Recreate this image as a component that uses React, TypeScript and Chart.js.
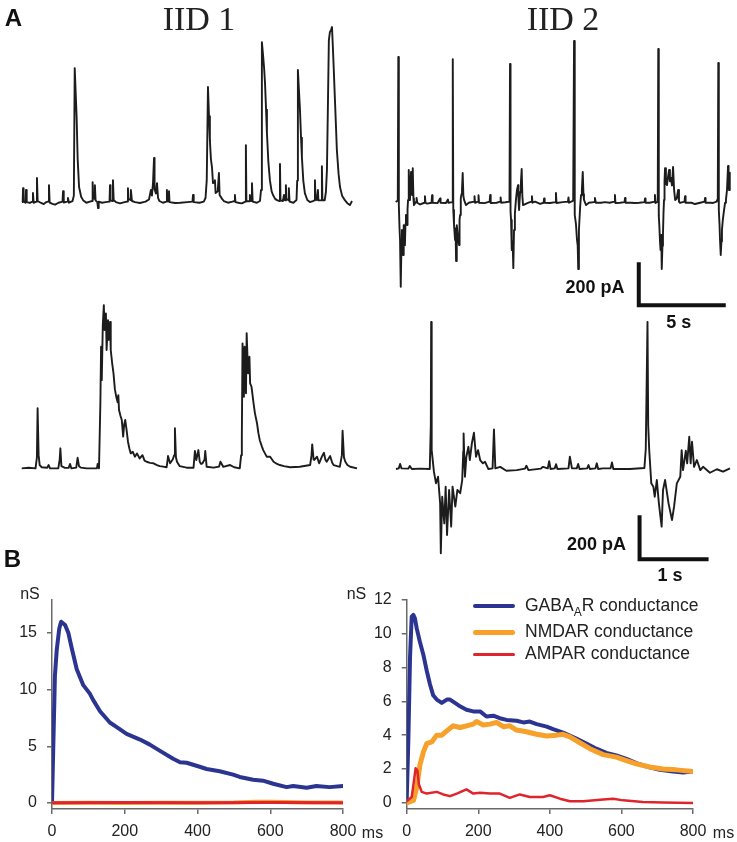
import React, { useEffect, useRef } from "react";
import { Chart, registerables } from "chart.js";

Chart.register(...registerables);

// ---------- Panel A data: [time (s), current (pA)] ----------
const iid1Long: number[][] = [
  [0, 0], [0.04, 3], [0.06, 65], [0.09, 2], [0.2, -3], [0.23, 56], [0.27, 0], [0.45, -4], [0.6, 2], [0.63, 42],
  [0.67, -3], [0.83, 2], [0.86, 112], [0.9, 5], [1.1, -4], [1.25, -9], [1.4, 0], [1.52, 3], [1.55, 79],
  [1.59, -2], [1.75, -8], [1.9, -12], [2.1, -3], [2.33, 2], [2.36, 51], [2.4, -2], [2.6, 2], [2.64, 19],
  [2.7, -3], [2.9, 4], [2.98, 30], [3.03, 623], [3.08, 520], [3.14, 395], [3.2, 200], [3.28, 70], [3.4, 25],
  [3.51, 9], [3.7, -3], [3.9, 2], [4.03, 5], [4.06, 93], [4.09, 20], [4.16, 15], [4.19, 79], [4.23, 8],
  [4.33, 0], [4.37, -28], [4.41, 2], [4.6, -3], [4.8, 0], [5.03, 2], [5.06, 79], [5.09, 8], [5.2, 5],
  [5.23, 102], [5.27, 10], [5.4, 0], [5.63, -6], [5.9, 0], [6.06, 3], [6.09, 65], [6.12, 15], [6.23, 10],
  [6.26, 56], [6.32, 5], [6.5, 0], [6.78, -4], [7.1, 2], [7.3, 12], [7.41, 56], [7.47, 30], [7.53, 88],
  [7.59, 205], [7.62, 60], [7.7, 40], [7.76, 88], [7.82, 20], [7.9, 5], [8.1, -3], [8.3, 2], [8.33, 56],
  [8.36, 5], [8.42, 3], [8.45, 51], [8.48, 0], [8.8, -4], [9.1, -3], [9.5, 0], [9.8, 2], [9.83, 33],
  [9.87, 0], [10.2, -3], [10.45, 2], [10.55, 19], [10.62, 102], [10.69, 535], [10.75, 400], [10.8, 288],
  [10.86, 200], [10.92, 163], [10.98, 88], [11.05, 95], [11.09, 102], [11.13, 42], [11.25, 50], [11.32, 135],
  [11.36, 33], [11.5, 15], [11.6, 5], [11.84, -3], [12.1, 2], [12.22, 5], [12.24, 33], [12.27, 0],
  [12.5, -4], [12.64, -6], [12.84, 2], [12.87, 265], [12.9, 5], [13.07, 4], [13.1, 33], [13.14, 8],
  [13.19, 5], [13.22, 88], [13.26, 2], [13.5, -3], [13.68, 5], [13.74, 56], [13.79, 744], [13.85, 690],
  [13.92, 620], [13.97, 553], [14.03, 430], [14.08, 321], [14.16, 190], [14.25, 102], [14.35, 50],
  [14.43, 33], [14.55, 15], [14.66, 9], [14.8, 5], [14.83, 177], [14.86, 8], [15.0, 5], [15.06, 33],
  [15.1, 10], [15.14, 8], [15.17, 79], [15.2, 15], [15.3, 10], [15.34, 65], [15.38, 2], [15.6, -3],
  [15.78, 10], [15.82, 100], [15.86, 614], [15.92, 520], [15.98, 428], [16.04, 300], [16.09, 209],
  [16.17, 100], [16.26, 42], [16.4, 10], [16.55, 0], [16.72, 5], [16.81, 8], [16.84, 102], [16.87, 15],
  [16.95, 10], [17.01, 56], [17.04, 8], [17.2, 8], [17.24, 167], [17.27, 10], [17.4, 8], [17.47, 47],
  [17.53, 150], [17.59, 474], [17.64, 753], [17.7, 790], [17.76, 800], [17.82, 814], [17.87, 721],
  [17.93, 600], [17.99, 474], [18.05, 350], [18.1, 242], [18.2, 130], [18.28, 70], [18.4, 30], [18.56, 9],
  [18.7, -5], [18.85, -14], [18.97, 5],
];

const iid2Long: number[][] = [
  [0, 3], [0.12, 10], [0.15, 678], [0.18, -11], [0.22, -120], [0.25, -173], [0.28, -260], [0.3, -391],
  [0.33, -200], [0.36, -127], [0.39, -230], [0.42, -243], [0.45, -150], [0.47, -104], [0.5, -180],
  [0.53, -197], [0.56, -100], [0.59, -57], [0.62, -90], [0.65, -104], [0.68, -30], [0.71, 13], [0.74, 60],
  [0.76, 152], [0.79, 30], [0.82, 13], [0.85, 80], [0.88, 143], [0.91, 50], [0.94, 36], [0.97, 100],
  [0.99, 161], [1.02, 20], [1.05, -11], [1.17, 5], [1.2, 22], [1.24, 0], [1.4, -8], [1.65, 0], [1.68, 30],
  [1.71, 0], [1.8, -4], [2.06, 0], [2.09, 35], [2.12, 0], [2.4, -2], [2.55, 20], [2.58, 0], [2.89, -1],
  [3.0, 15], [3.03, 0], [3.25, 3], [3.28, 668], [3.31, -34], [3.35, -100], [3.41, -173], [3.44, -120],
  [3.47, -271], [3.5, -150], [3.52, -104], [3.58, -160], [3.64, -197], [3.67, -80], [3.7, -57], [3.74, 20],
  [3.78, 40], [3.81, 59], [3.85, 138], [3.89, 30], [3.93, 13], [4.04, -11], [4.2, 0], [4.5, 5], [4.53, 30],
  [4.56, 0], [4.73, 5], [4.76, 35], [4.79, 0], [5.1, -2], [5.4, 5], [5.43, 36], [5.46, -1], [5.8, 0],
  [6.0, 5], [6.03, 25], [6.06, 0], [6.3, 2], [6.54, 5], [6.57, 645], [6.6, -40], [6.63, -80], [6.66, -150],
  [6.68, -220], [6.72, -180], [6.76, -304], [6.8, -127], [6.85, -50], [6.91, 13], [6.97, 60], [7.03, 82],
  [7.06, 10], [7.09, -34], [7.15, 50], [7.2, 100], [7.24, 157], [7.28, 30], [7.32, -11], [7.6, -1],
  [7.8, 5], [7.83, 30], [7.86, 0], [8.01, 5], [8.3, -5], [8.5, 0], [8.53, 20], [8.56, 0], [8.87, -1],
  [9.18, 3], [9.21, 45], [9.24, -1], [9.6, 3], [9.9, 5], [9.93, 25], [9.96, 0], [10.2, 10], [10.25, 752],
  [10.28, -20], [10.3, -57], [10.36, -100], [10.42, -173], [10.46, -200], [10.49, -308], [10.53, -127],
  [10.6, -20], [10.65, 36], [10.7, 60], [10.75, 143], [10.79, 40], [10.82, 13], [10.94, -11], [11.1, 0],
  [11.4, 3], [11.45, 22], [11.5, 0], [11.8, 0], [12.03, 3], [12.3, 0], [12.57, 5], [12.6, 36], [12.63, -1],
  [12.9, 0], [13.15, 3], [13.18, 22], [13.21, 0], [13.5, 0], [13.75, -1], [14.0, 0], [14.3, 3], [14.33, 20],
  [14.36, 0], [14.6, 0], [14.87, 5], [14.9, 36], [14.93, -1], [15.06, 5], [15.09, 715], [15.12, -60],
  [15.15, -104], [15.19, -180], [15.22, -220], [15.26, -150], [15.29, -308], [15.33, -200], [15.36, -150],
  [15.39, -50], [15.42, 13], [15.45, 100], [15.48, 161], [15.53, 90], [15.59, 82], [15.65, 120],
  [15.71, 152], [15.76, 100], [15.82, 115], [15.88, 80], [15.94, 166], [16.0, 60], [16.06, 13], [16.15, 20],
  [16.23, 59], [16.28, 5], [16.34, -1], [16.6, 5], [16.63, 30], [16.66, 0], [17.0, 0], [17.2, -6],
  [17.5, 0], [17.75, 5], [17.78, 22], [17.81, 0], [18.1, 0], [18.24, -1], [18.44, 5], [18.47, 13],
  [18.51, 10], [18.54, 650], [18.57, -34], [18.61, -100], [18.64, -173], [18.68, -243], [18.72, -180],
  [18.75, -127], [18.8, -80], [18.87, -34], [18.93, 0], [18.98, 13], [19.04, 60], [19.1, 171], [19.13, 80],
  [19.16, 59], [19.19, 140], [19.21, 115],
];

const iid1Short: number[][] = [
  [0, 0], [0.1, 3], [0.2, 0], [0.22, 50], [0.23, 273], [0.245, 60], [0.26, 15], [0.29, 5], [0.37, 3],
  [0.39, 15], [0.41, 0], [0.53, 0], [0.55, 40], [0.56, 91], [0.575, 10], [0.62, 3], [0.68, 2], [0.7, 20],
  [0.72, 0], [0.79, 3], [0.81, 48], [0.83, 10], [0.86, 3], [0.94, 0], [1.09, 0], [1.1, 20], [1.12, 0],
  [1.14, 300], [1.15, 553], [1.16, 401], [1.175, 650], [1.19, 742], [1.2, 629], [1.22, 704], [1.23, 538],
  [1.25, 674], [1.26, 584], [1.28, 666], [1.29, 538], [1.31, 480], [1.33, 432], [1.35, 360], [1.37, 325],
  [1.39, 300], [1.4, 333], [1.41, 265], [1.43, 240], [1.45, 220], [1.47, 144], [1.485, 200], [1.5, 220],
  [1.52, 174], [1.54, 121], [1.56, 90], [1.58, 68], [1.61, 75], [1.64, 53], [1.67, 68], [1.71, 45],
  [1.75, 60], [1.78, 35], [1.81, 30], [1.86, 25], [1.91, 23], [1.96, 15], [2.0, 10], [2.05, 8], [2.1, 5],
  [2.115, 40], [2.12, 56], [2.15, 23], [2.19, 41], [2.21, 60], [2.22, 182], [2.235, 50], [2.25, 30],
  [2.29, 10], [2.39, 3], [2.49, 3], [2.51, 79], [2.53, 38], [2.56, 83], [2.58, 30], [2.6, 20], [2.62, 23],
  [2.65, 40], [2.66, 79], [2.68, 7], [2.78, 3], [2.86, 8], [2.88, 30], [2.92, 7], [3.02, 15], [3.08, 5],
  [3.16, 0], [3.18, 60], [3.19, 144], [3.2, 568], [3.22, 325], [3.23, 553], [3.25, 341], [3.26, 614],
  [3.28, 432], [3.3, 507], [3.31, 386], [3.33, 371], [3.36, 295], [3.38, 250], [3.41, 205], [3.43, 160],
  [3.45, 128], [3.48, 100], [3.5, 83], [3.55, 53], [3.6, 53], [3.65, 30], [3.7, 20], [3.74, 15], [3.8, 10],
  [3.89, 5], [4.03, 7], [4.18, 15], [4.2, 60], [4.21, 109], [4.23, 40], [4.24, 38], [4.28, 53], [4.31, 23],
  [4.35, 53], [4.38, 71], [4.4, 40], [4.42, 30], [4.47, 56], [4.5, 25], [4.52, 15], [4.61, 7], [4.64, 60],
  [4.65, 171], [4.67, 50], [4.69, 30], [4.72, 15], [4.76, 7], [4.86, 0],
];

const iid2Short: number[][] = [
  [0, 0], [0.04, 3], [0.06, 23], [0.08, 3], [0.18, 2], [0.2, 14], [0.23, 0], [0.35, 2], [0.49, 0],
  [0.505, 200], [0.51, 669], [0.515, 300], [0.52, 86], [0.55, -12], [0.58, -65], [0.61, -35], [0.64, -156],
  [0.65, -383], [0.67, -126], [0.7, -247], [0.72, -80], [0.74, -300], [0.77, -95], [0.8, -262], [0.82, -80],
  [0.86, -171], [0.89, -95], [0.93, -110], [0.96, -50], [0.975, 80], [0.98, 162], [0.99, 50], [1.0, -35],
  [1.02, 56], [1.05, 101], [1.07, 41], [1.1, 117], [1.13, 165], [1.16, 56], [1.19, 86], [1.22, 41],
  [1.26, 26], [1.29, 33], [1.34, 0], [1.4, 3], [1.42, 180], [1.44, 3], [1.51, 10], [1.6, -8], [1.75, -5],
  [1.87, 2], [1.89, 15], [1.92, -5], [2.1, 2], [2.13, 10], [2.2, 3], [2.22, 36], [2.24, 0], [2.3, 3],
  [2.32, 22], [2.34, 0], [2.5, 3], [2.52, 56], [2.55, 3], [2.62, 3], [2.64, 23], [2.66, 0], [2.77, 3],
  [2.79, 18], [2.81, 0], [2.89, 3], [2.91, 26], [2.93, 0], [3.0, 3], [3.11, 3], [3.13, 30], [3.15, 0],
  [3.39, 0], [3.6, 5], [3.62, 91], [3.645, 669], [3.655, 200], [3.67, 86], [3.7, -65], [3.73, -80],
  [3.75, -126], [3.78, -50], [3.81, -156], [3.85, -262], [3.87, -95], [3.9, -50], [3.95, -156], [4.0, -232],
  [4.03, -171], [4.07, -65], [4.12, -35], [4.14, 86], [4.16, -5], [4.2, 83], [4.22, 26], [4.25, 147],
  [4.27, 26], [4.29, 124], [4.32, 10], [4.36, 41], [4.41, -5], [4.45, 10], [4.55, -17], [4.65, -1],
  [4.74, -12], [4.84, 3],
];

// Scale bars (pA, s)
const SCALE_PA = 200;
const SCALE_S_LONG = 5;
const SCALE_S_SHORT = 1;

// ---------- Panel B data: time (ms), conductance (nS) ----------
const gabaLeftT = [0, 4, 8, 13, 20, 25, 36, 45, 54, 68, 86, 104, 113, 132, 159, 178, 205, 242, 269, 297, 333, 352, 370, 406, 425, 461, 498, 516, 553, 580, 608, 645, 663, 700, 727, 763, 800];
const gabaLeftV = [0, 5.6, 11.2, 13.5, 15.4, 16.0, 15.7, 15.0, 13.7, 11.8, 10.4, 9.65, 9.1, 8.1, 7.1, 6.7, 6.1, 5.6, 5.15, 4.6, 3.9, 3.6, 3.55, 3.2, 3.0, 2.8, 2.5, 2.3, 2.05, 1.97, 1.7, 1.4, 1.5, 1.35, 1.5, 1.4, 1.5];
const nmdaLeftT = [0, 100, 200, 300, 400, 500, 560, 600, 640, 700, 800];
const nmdaLeftV = [0, 0.02, 0.0, 0.03, 0.02, 0.05, 0.12, 0.1, 0.08, 0.05, 0.04];
const ampaLeftT = [0, 200, 400, 600, 800];
const ampaLeftV = [0.03, 0.04, 0.03, 0.04, 0.03];

const gabaRightT = [0, 4.7, 9.3, 14, 18.6, 23, 28, 37, 46.5, 56, 65, 74, 84, 98, 112, 121, 135, 149, 167, 186, 205, 223, 242, 260, 279, 307, 326, 344, 363, 391, 409, 437, 474, 502, 530, 558, 586, 614, 642, 670, 707, 744, 772, 800];
const gabaRightV = [0.15, 3.8, 8.6, 11.0, 11.1, 10.9, 10.3, 9.5, 8.75, 7.8, 7.0, 6.35, 6.1, 5.9, 6.1, 6.1, 5.9, 5.7, 5.5, 5.4, 5.4, 5.1, 5.15, 5.0, 4.9, 4.85, 4.75, 4.8, 4.65, 4.5, 4.35, 4.15, 3.8, 3.5, 3.2, 2.95, 2.8, 2.6, 2.35, 2.15, 1.95, 1.85, 1.8, 1.85];
const nmdaRightT = [0, 19, 28, 37, 46.5, 56, 70, 84, 98, 112, 130, 149, 167, 186, 195, 214, 233, 251, 270, 288, 307, 335, 363, 391, 419, 437, 456, 484, 512, 549, 586, 614, 642, 679, 716, 753, 800];
const nmdaRightV = [0, 0.15, 0.9, 2.25, 3.0, 3.5, 3.6, 4.0, 4.0, 4.25, 4.55, 4.45, 4.55, 4.65, 4.8, 4.6, 4.65, 4.75, 4.5, 4.55, 4.3, 4.2, 4.05, 3.95, 4.0, 4.05, 3.9, 3.55, 3.2, 2.85, 2.7, 2.5, 2.3, 2.12, 2.0, 1.95, 1.85];
const ampaRightT = [0, 14, 19, 25, 30, 34, 42, 56, 84, 102, 121, 140, 167, 186, 205, 233, 260, 288, 316, 344, 381, 400, 428, 456, 493, 549, 577, 605, 660, 716, 800];
const ampaRightV = [0.1, 0.35, 1.1, 2.05, 1.9, 1.1, 0.65, 0.55, 0.65, 0.5, 0.4, 0.55, 0.8, 0.55, 0.6, 0.55, 0.55, 0.3, 0.5, 0.35, 0.35, 0.45, 0.25, 0.1, 0.1, 0.2, 0.25, 0.15, 0.05, 0.02, 0.0];

const xTicksB = [0, 200, 400, 600, 800];
const yTicksLeft = [0, 5, 10, 15];
const yTicksRight = [0, 2, 4, 6, 8, 10, 12];

// ---------- styling ----------
const TRACE = "#1c1c1c";
const BLUE = "#2b3591";
const ORANGE = "#f7a02a";
const RED = "#e0242c";
const AXIS = "#6a6a6a";
const TEXT = "#222";
const SANS = "'Liberation Sans', Arial, sans-serif";

const pairs = (p: number[][]) => p.map(([x, y]) => ({ x, y }));
const zip = (t: number[], v: number[]) => t.map((x, i) => ({ x, y: v[i] }));

function traceConfig(series: number[][], xr: number[], yr: number[], bar?: { t: number; v: number; s: number }) {
  const datasets: any[] = [];
  if (bar) {
    datasets.push({
      data: [
        { x: bar.t, y: bar.v + SCALE_PA },
        { x: bar.t, y: bar.v },
        { x: bar.t + bar.s, y: bar.v },
      ],
      borderColor: "#111",
      borderWidth: 4,
      borderJoinStyle: "miter",
      borderCapStyle: "butt",
      pointRadius: 0,
      tension: 0,
    });
  }
  datasets.push({
    data: pairs(series),
    borderColor: TRACE,
    borderWidth: 1.9,
    borderJoinStyle: "round",
    pointRadius: 0,
    tension: 0,
  });
  return {
    type: "line",
    data: { datasets },
    options: {
      animation: false,
      responsive: false,
      events: [],
      layout: { padding: 0 },
      plugins: { legend: { display: false }, tooltip: { enabled: false } },
      scales: {
        x: { type: "linear", display: false, min: xr[0], max: xr[1] },
        y: { type: "linear", display: false, min: yr[0], max: yr[1] },
      },
    },
  };
}

function condConfig(
  sets: { data: any[]; color: string; width: number }[],
  yr: number[],
  yTicks: number[],
  yAxisWidth: number,
  padRight: number,
  padTop: number
) {
  const tickFont = { family: SANS, size: 16 };
  return {
    type: "line",
    data: {
      datasets: sets.map((s) => ({
        data: s.data,
        borderColor: s.color,
        borderWidth: s.width,
        pointRadius: 0,
        tension: 0,
        borderJoinStyle: "round",
        borderCapStyle: "round",
      })),
    },
    options: {
      animation: false,
      responsive: false,
      events: [],
      layout: { padding: { left: 0, right: padRight, top: padTop, bottom: 0 } },
      plugins: { legend: { display: false }, tooltip: { enabled: false } },
      scales: {
        x: {
          type: "linear",
          min: 0,
          max: 800,
          afterBuildTicks: (ax: any) => {
            ax.ticks = xTicksB.map((v) => ({ value: v }));
          },
          afterFit: (ax: any) => {
            ax.height = 33;
          },
          ticks: { font: tickFont, color: TEXT, padding: 8, maxRotation: 0, autoSkip: false },
          grid: { drawOnChartArea: false, drawTicks: true, tickLength: 5, color: AXIS, lineWidth: 1.5 },
          border: { display: true, color: AXIS, width: 1.5 },
        },
        y: {
          type: "linear",
          min: yr[0],
          max: yr[1],
          afterBuildTicks: (ax: any) => {
            ax.ticks = yTicks.map((v) => ({ value: v }));
          },
          afterFit: (ax: any) => {
            ax.width = yAxisWidth;
          },
          ticks: { font: tickFont, color: TEXT, padding: 10, autoSkip: false },
          grid: { drawOnChartArea: false, drawTicks: true, tickLength: 5, color: AXIS, lineWidth: 1.5 },
          border: { display: true, color: AXIS, width: 1.5 },
        },
      },
    },
  };
}

function ChartBox({ x, y, w, h, config }: { x: number; y: number; w: number; h: number; config: any }) {
  const ref = useRef<HTMLCanvasElement | null>(null);
  useEffect(() => {
    if (!ref.current) return;
    const c = new Chart(ref.current, config);
    return () => c.destroy();
  }, []);
  return (
    <canvas
      ref={ref}
      width={w}
      height={h}
      style={{ position: "absolute", left: x, top: y, width: w, height: h, display: "block" }}
    />
  );
}

function Label({ x, y, children, style }: { x: number; y: number; children: any; style?: any }) {
  return (
    <div
      style={{
        position: "absolute",
        left: x,
        top: y,
        transform: "translate(-50%, -50%)",
        lineHeight: 1,
        whiteSpace: "nowrap",
        color: TEXT,
        fontFamily: SANS,
        fontSize: 16,
        ...style,
      }}
    >
      {children}
    </div>
  );
}

function LegendRow({ y, color, width, children }: { y: number; color: string; width: number; children: any }) {
  return (
    <>
      <div
        style={{
          position: "absolute",
          left: 473,
          top: y - width / 2,
          width: 42,
          height: width,
          background: color,
          borderRadius: width / 2,
        }}
      />
      <div
        style={{
          position: "absolute",
          left: 525,
          top: y,
          transform: "translateY(-50%)",
          lineHeight: 1,
          whiteSpace: "nowrap",
          fontFamily: SANS,
          fontSize: 17.5,
          color: TEXT,
        }}
      >
        {children}
      </div>
    </>
  );
}

export default function App() {
  const boldLab = { fontWeight: "bold", fontSize: 18, color: "#111" };
  return (
    <div style={{ position: "absolute", left: 0, top: 0, width: 737, height: 842, background: "#fff", overflow: "hidden" }}>
      <ChartBox x={10} y={15} w={350} h={200} config={traceConfig(iid1Long, [-0.69, 19.43], [-60, 870])} />
      <ChartBox
        x={385}
        y={15}
        w={350}
        h={300}
        config={traceConfig(iid2Long, [-0.615, 19.5], [-522, 873], { t: 13.97, v: -477, s: SCALE_S_LONG })}
      />
      <ChartBox x={10} y={295} w={355} h={185} config={traceConfig(iid1Short, [-0.17, 4.975], [-53, 788])} />
      <ChartBox
        x={385}
        y={310}
        w={350}
        h={260}
        config={traceConfig(iid2Short, [-0.159, 4.913], [-459, 723], { t: 3.53, v: -410, s: SCALE_S_SHORT })}
      />

      <ChartBox
        x={0}
        y={580}
        w={370}
        h={262}
        config={condConfig(
          [
            { data: zip(ampaLeftT, ampaLeftV), color: RED, width: 3 },
            { data: zip(nmdaLeftT, nmdaLeftV), color: ORANGE, width: 4 },
            { data: zip(gabaLeftT, gabaLeftV), color: BLUE, width: 4 },
          ],
          [-0.53, 17.95],
          yTicksLeft,
          52,
          27,
          10
        )}
      />
      <ChartBox
        x={370}
        y={580}
        w={367}
        h={262}
        config={condConfig(
          [
            { data: zip(ampaRightT, ampaRightV), color: RED, width: 2.5 },
            { data: zip(nmdaRightT, nmdaRightV), color: ORANGE, width: 5 },
            { data: zip(gabaRightT, gabaRightV), color: BLUE, width: 4 },
          ],
          [-0.36, 12],
          yTicksRight,
          36.7,
          44,
          13
        )}
      />

      <Label x={13.5} y={17.5} style={{ fontWeight: "bold", fontSize: 24, color: "#111" }}>A</Label>
      <Label x={12.5} y={558.5} style={{ fontWeight: "bold", fontSize: 24, color: "#111" }}>B</Label>
      <Label x={199} y={19} style={{ fontFamily: "'Liberation Serif', 'Times New Roman', serif", fontSize: 34 }}>IID 1</Label>
      <Label x={563} y={19} style={{ fontFamily: "'Liberation Serif', 'Times New Roman', serif", fontSize: 34 }}>IID 2</Label>

      <Label x={595} y={287} style={boldLab}>200 pA</Label>
      <Label x={678.7} y={322} style={boldLab}>5 s</Label>
      <Label x={596.5} y={543.5} style={boldLab}>200 pA</Label>
      <Label x={670} y={574.5} style={boldLab}>1 s</Label>

      <Label x={30} y={594}>nS</Label>
      <Label x={356.5} y={594}>nS</Label>
      <Label x={372.5} y={832.5}>ms</Label>
      <Label x={723.5} y={832.5}>ms</Label>

      <LegendRow y={606} color={BLUE} width={4}>
        GABA<span style={{ fontSize: 12, position: "relative", top: 5 }}>A</span>R conductance
      </LegendRow>
      <LegendRow y={632} color={ORANGE} width={5}>NMDAR conductance</LegendRow>
      <LegendRow y={654} color={RED} width={3}>AMPAR conductance</LegendRow>
    </div>
  );
}
